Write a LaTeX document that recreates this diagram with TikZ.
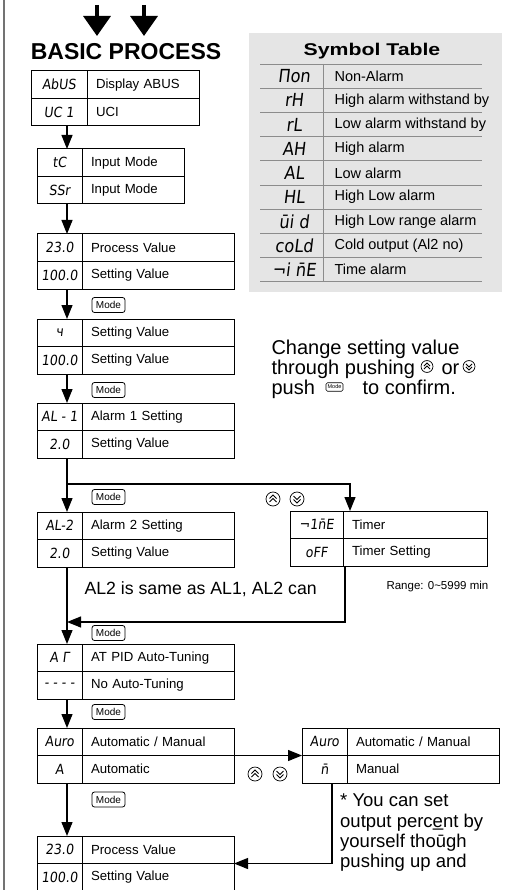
\documentclass[tikz,border=0pt]{standalone}
\usepackage{fontspec}
\setmainfont{Liberation Sans}
\newfontfamily\segfont[FakeSlant=0.12,FakeStretch=0.9]{DejaVu Sans}
\newfontfamily\widefont[FakeStretch=1.25]{Liberation Sans}
\usetikzlibrary{positioning,arrows.meta}

\tikzset{
  symcell/.style={draw, line width=1pt, minimum width=#1, minimum height=27.5pt,
    inner sep=0pt, outer sep=0pt, font=\segfont\fontsize{14}{14}\selectfont},
  txtcell/.style={draw, line width=1pt, minimum height=27.5pt, text width=#1,
    inner xsep=9pt, inner ysep=0pt, outer sep=0pt, align=left,
    font=\fontsize{13.2}{15}\selectfont},
  arr/.style={line width=1.2pt, -{Triangle[length=14pt,width=11pt]}},
  bigarr/.style={line width=3.5pt, -{Triangle[length=20pt,width=27pt]}},
  modekey/.style={draw, rounded corners=2.5pt, line width=0.8pt, minimum width=33pt,
    minimum height=15pt, inner sep=0pt, font=\fontsize{10}{10}\selectfont},
  minikey/.style={draw, rounded corners=1.5pt, line width=0.6pt, minimum width=17pt,
    minimum height=8.5pt, inner sep=0pt, font=\fontsize{5.5}{5.5}\selectfont},
  tabline/.style={black!45, line width=0.9pt},
  tabsym/.style={font=\segfont\fontsize{18}{18}\selectfont},
  tabtxt/.style={anchor=west, font=\fontsize{14.5}{16}\selectfont},
  note/.style={anchor=base west, font=\fontsize{20}{20}\selectfont},
  upkey/.pic={
    \draw[line width=0.7pt] (0,0) circle (7pt);
    \draw[line width=0.9pt] (-3.5pt,0.5pt) -- (0pt,4pt) -- (3.5pt,0.5pt)
      (-3.5pt,-3pt) -- (0pt,0.5pt) -- (3.5pt,-3pt);
  },
  dnkey/.pic={
    \draw[line width=0.7pt] (0,0) circle (7pt);
    \draw[line width=0.9pt] (-3.5pt,-0.5pt) -- (0pt,-4pt) -- (3.5pt,-0.5pt)
      (-3.5pt,3pt) -- (0pt,-0.5pt) -- (3.5pt,3pt);
  }
}

% two-row display panel: name, position, symbol width, text width, rows
\newcommand{\panel}[8]{%
  \node[symcell=#3, anchor=north west] (#1s1) at #2 {#5};
  \node[txtcell=#4, right=0pt of #1s1] (#1t1) {#6};
  \node[symcell=#3, below=0pt of #1s1] (#1s2) {#7};
  \node[txtcell=#4, right=0pt of #1s2] (#1t2) {#8};
}

\begin{document}
\begin{tikzpicture}[x=1pt, y=-1pt]
\useasboundingbox (0,0) rectangle (505,890);
\draw[black!55, line width=1.5pt] (4,0) -- (4,890);

% entry
\coordinate (in1) at (97,5);
\coordinate (in1e) at (97,36);
\coordinate (in2) at (144,5);
\coordinate (in2e) at (144,36);
\draw[bigarr] (in1) -- (in1e);
\draw[bigarr] (in2) -- (in2e);
\node[anchor=base, font=\bfseries\fontsize{23}{23}\selectfont] (basic) at (126,60) {BASIC PROCESS};

% symbol table
\fill[black!10] (249,33) rectangle (502,292);
\node[anchor=base, font=\widefont\bfseries\fontsize{17}{17}\selectfont] (symtitle) at (372,56) {Symbol Table};
\foreach \k in {0,...,9}
  \draw[tabline] (260,{64+24.2*\k}) -- (482,{64+24.2*\k});
\draw[tabline] (323,64) -- (323,282);
\foreach \sym/\desc [count=\i] in {Πon/Non-Alarm, rH/High alarm withstand by,
    rL/Low alarm withstand by, AH/High alarm, AL/Low alarm, HL/High Low alarm,
    ūi d/High Low range alarm, coLd/Cold output (Al2 no), ¬i n̄E/Time alarm} {
  \node[tabsym] (ts\i) at (294,{64+24.2*\i-12.1}) {\sym};
  \node[tabtxt] (tt\i) at (331,{64+24.2*\i-12.1}) {\desc};
}

% panels
\panel{b1}{(31,71)}{56pt}{94pt}{AbUS}{Display ABUS}{UC 1}{UCI}
\panel{b2}{(37,149)}{45pt}{84pt}{tC}{Input Mode}{SSr}{Input Mode}
\panel{b3}{(37,234)}{45pt}{134pt}{23.0}{Process Value}{100.0}{Setting Value}
\panel{b4}{(37,319)}{45pt}{134pt}{ч}{Setting Value}{100.0}{Setting Value}
\panel{b5}{(37,403)}{45pt}{134pt}{AL - 1}{Alarm 1 Setting}{2.0}{Setting Value}
\panel{b6}{(37,512)}{45pt}{134pt}{AL-2}{Alarm 2 Setting}{2.0}{Setting Value}
\panel{tm}{(290,511)}{53pt}{126pt}{¬1n̄E}{Timer}{oFF}{Timer Setting}
\panel{b7}{(37,644)}{45pt}{134pt}{A Γ}{AT PID Auto-Tuning}{- - - -}{No Auto-Tuning}
\panel{b8}{(37,728)}{45pt}{134pt}{Auro}{Automatic / Manual}{A}{Automatic}
\panel{b9}{(302,728)}{45pt}{134pt}{Auro}{Automatic / Manual}{n̄}{Manual}
\panel{b10}{(37,836)}{45pt}{134pt}{23.0}{Process Value}{100.0}{Setting Value}

% mode keys
\node[modekey] (md1) at (108.5,305) {Mode};
\node[modekey] (md2) at (108.5,390) {Mode};
\node[modekey] (md3) at (108.5,497) {Mode};
\node[modekey] (md4) at (108.5,633) {Mode};
\node[modekey] (md5) at (108.5,712) {Mode};
\node[modekey] (md6) at (108.5,799.5) {Mode};
\pic at (273,499) {upkey};
\pic at (297,499) {dnkey};
\pic at (255,774) {upkey};
\pic at (280,774) {dnkey};

% flow
\coordinate (trunk) at (67,0);
\coordinate (split) at (67,484);
\coordinate (join) at (67,622);
\coordinate (tmin) at (350,0);
\coordinate (tmout) at (345,0);
\coordinate (m9) at (332,0);
\draw[arr] (b1s2.south -| trunk) -- (b2s1.north -| trunk);
\draw[arr] (b2s2.south -| trunk) -- (b3s1.north -| trunk);
\draw[arr] (b3s2.south -| trunk) -- (b4s1.north -| trunk);
\draw[arr] (b4s2.south -| trunk) -- (b5s1.north -| trunk);
\draw[arr] (b5s2.south -| trunk) -- (b6s1.north -| trunk);
\draw[arr] (split) -| (tmt1.north -| tmin);
\draw[arr] (tmt2.south -| tmout) |- (join);
\draw[arr] (b6s2.south -| trunk) -- (b7s1.north -| trunk);
\draw[arr] (b7s2.south -| trunk) -- (b8s1.north -| trunk);
\draw[arr] (b8s2.south -| trunk) -- (b10s1.north -| trunk);
\draw[arr] (b8t1.south east) -- (b9s1.south west);
\draw[arr] (b9s2.south -| m9) |- (b10t1.south east);

% notes
\node[note] (chg1) at (268,354) {Change setting value};
\node[note] (chg2) at (268,374) {through pushing};
\pic[scale=0.85] at (427,366.5) {upkey};
\node[note] (chgor) at (438,374) {or};
\pic[scale=0.85] at (469,366.5) {dnkey};
\node[note] (chg3) at (268,394) {push};
\node[minikey] (mdin) at (334.5,387) {Mode};
\node[note] (chg4) at (359,394) {to confirm.};
\node[anchor=base west, font=\fontsize{11.5}{12}\selectfont] (range) at (383,589) {Range: 0\textasciitilde 5999 min};
\node[anchor=base west, font=\fontsize{17.7}{20}\selectfont] (alnote) at (81,594) {AL2 is same as AL1, AL2 can};
\node[anchor=north west, align=left, inner sep=0pt, font=\fontsize{18.5}{20.3}\selectfont] (manual) at (340,794)
  {* You can set\\output perc\b{e}nt by\\yourself tho\=ugh\\pushing up and};
\end{tikzpicture}
\end{document}
